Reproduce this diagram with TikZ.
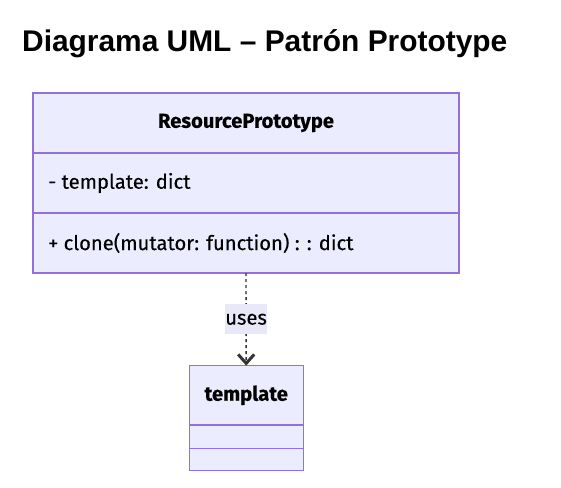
\documentclass[tikz,border=0pt]{standalone}
\usepackage{fontspec}
\setmainfont{Fira Sans}[FakeBold=0.3]
\newfontfamily\titlefont{Liberation Sans}
\usetikzlibrary{arrows.meta}
\definecolor{umlfill}{HTML}{ECECFF}
\definecolor{umlstroke}{HTML}{9370DB}
\definecolor{edgecol}{HTML}{333333}
\definecolor{labelbg}{HTML}{E8E8F8}
\tikzset{
  compart/.style={draw=umlstroke, fill=umlfill, line width=1.3pt, rectangle, inner sep=0pt, outer sep=0pt, font=\fontsize{20.2}{23}\selectfont},
  membertext/.style={anchor=west, inner sep=0pt, font=\fontsize{20.2}{23}\selectfont\addfontfeature{FakeBold=0.3}},
  usesedge/.style={draw=edgecol, line width=1.4pt, dash pattern=on 3pt off 3pt, -{Straight Barb[length=9pt, width=16pt, line width=3pt]}},
  edgelabel/.style={fill=labelbg, inner sep=0pt, minimum width=38pt, minimum height=30pt, font=\fontsize{20.2}{23}\selectfont\addfontfeature{FakeBold=0.3}}
}
\begin{document}
\begin{tikzpicture}[x=1pt, y=-1pt]
\useasboundingbox (0,0) rectangle (561,487);
\fill[white] (0,0) rectangle (561,487);
\node[anchor=base west, inner sep=0pt, font=\titlefont\bfseries\fontsize{29.9}{34}\selectfont] (title) at (22,52) {Diagrama UML – Patrón Prototype};
% ResourcePrototype class
\node[compart, minimum width=426pt, minimum height=60pt] (rphead) at (246,123) {\bfseries ResourcePrototype};
\node[compart, minimum width=426pt, minimum height=60pt] (rpattr) at (246,183) {};
\node[compart, minimum width=426pt, minimum height=60pt] (rpmeth) at (246,243) {};
\node[membertext] (attr) at (48,183) {- template: dict};
\node[membertext] (meth) at (48,243) {+ clone(mutator: function) : : dict};
% template class
\node[compart, minimum width=114pt, minimum height=59.3pt] (tphead) at (246.2,395.3) {\bfseries template};
\node[compart, minimum width=114pt, minimum height=23.3pt] (tpattr) at (246.2,436.65) {};
\node[compart, minimum width=114pt, minimum height=22.4pt] (tpmeth) at (246.2,459.5) {};
% edge
\draw[usesedge] (rpmeth.south) -- node[edgelabel] (uses) {uses} (tphead.north);
\end{tikzpicture}
\end{document}
